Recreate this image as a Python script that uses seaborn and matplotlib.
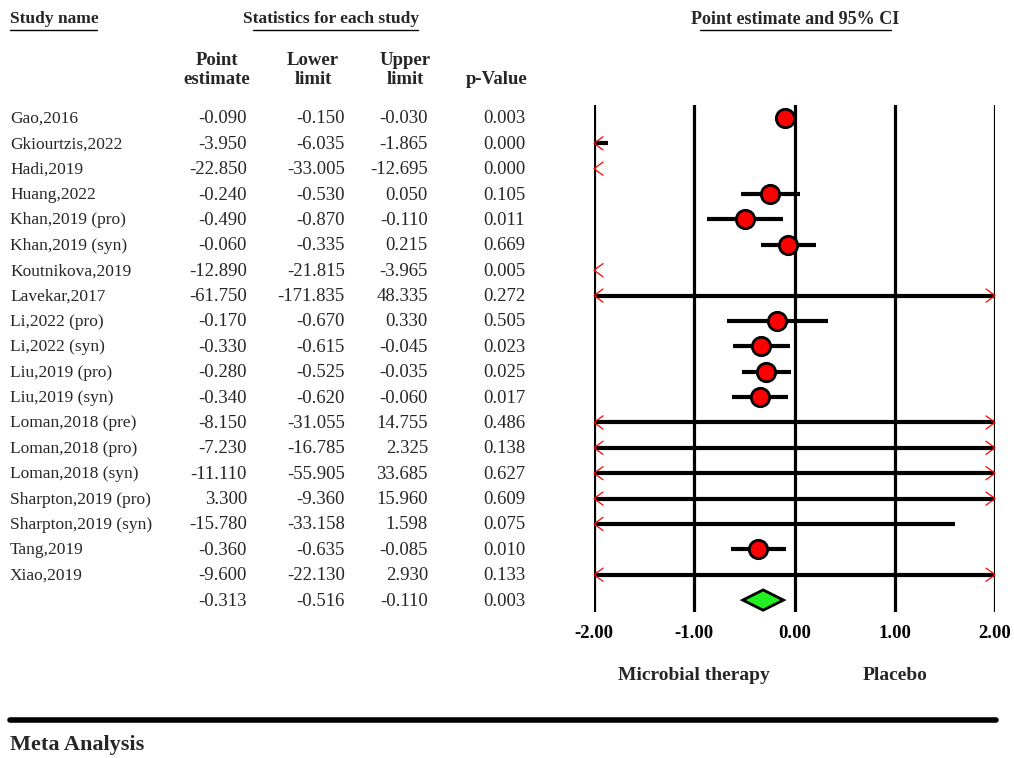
import matplotlib
matplotlib.use("Agg")
import matplotlib.pyplot as plt
import matplotlib.transforms as mtransforms
from matplotlib.lines import Line2D
import seaborn as sns
import pandas as pd

studies = [
    "Gao,2016", "Gkiourtzis,2022", "Hadi,2019", "Huang,2022", "Khan,2019 (pro)",
    "Khan,2019 (syn)", "Koutnikova,2019", "Lavekar,2017", "Li,2022 (pro)", "Li,2022 (syn)",
    "Liu,2019 (pro)", "Liu,2019 (syn)", "Loman,2018 (pre)", "Loman,2018 (pro)",
    "Loman,2018 (syn)", "Sharpton,2019 (pro)", "Sharpton,2019 (syn)", "Tang,2019", "Xiao,2019",
]
point_est = [-0.090, -3.950, -22.850, -0.240, -0.490, -0.060, -12.890, -61.750, -0.170, -0.330,
             -0.280, -0.340, -8.150, -7.230, -11.110, 3.300, -15.780, -0.360, -9.600]
lower = [-0.150, -6.035, -33.005, -0.530, -0.870, -0.335, -21.815, -171.835, -0.670, -0.615,
         -0.525, -0.620, -31.055, -16.785, -55.905, -9.360, -33.158, -0.635, -22.130]
upper = [-0.030, -1.865, -12.695, 0.050, -0.110, 0.215, -3.965, 48.335, 0.330, -0.045,
         -0.035, -0.060, 14.755, 2.325, 33.685, 15.960, 1.598, -0.085, 2.930]
p_values = [0.003, 0.000, 0.000, 0.105, 0.011, 0.669, 0.005, 0.272, 0.505, 0.023,
            0.025, 0.017, 0.486, 0.138, 0.627, 0.609, 0.075, 0.010, 0.133]
pooled = {"est": -0.313, "lo": -0.516, "hi": -0.110, "p": 0.003}
x_ticks = [-2, -1, 0, 1, 2]
left_label = "Microbial therapy"
right_label = "Placebo"

sns.set_theme(style="white")
plt.rcParams["font.family"] = ["Liberation Serif", "DejaVu Serif"]

W, H = 1014, 758
fig = plt.figure(figsize=(W / 100, H / 100), dpi=100)


def fx(px):
    return px / W


def fy(py):
    return 1 - py / H


ax = fig.add_axes([fx(594), fy(612), fx(995) - fx(594), fy(105) - fy(612)])
xmin, xmax = x_ticks[0], x_ticks[-1]
n = len(studies)
ax.set_xlim(xmin, xmax)
ax.set_ylim(n + 0.47, -0.51)
for s in ax.spines.values():
    s.set_visible(False)
ax.set_yticks([])
ax.set_xticks(x_ticks)
ax.set_xticklabels([f"{t:.2f}" for t in x_ticks], fontsize=13.5, fontweight="bold")
ax.tick_params(axis="x", length=0, pad=9, colors="black")
for t in x_ticks:
    ax.axvline(t, color="black", lw=2.3, zorder=1)

df = pd.DataFrame({"study": studies, "est": point_est, "lo": lower, "hi": upper, "p": p_values})
df["row"] = range(n)

# CI lines, clipped to the axis range with red arrows where they run off
arrow_dx, arrow_dy = 0.09, 0.26
for _, r in df.iterrows():
    lo_c = max(r["lo"], xmin)
    hi_c = min(r["hi"], xmax)
    if hi_c > lo_c:
        ax.plot([lo_c, hi_c], [r["row"], r["row"]], color="black", lw=3, zorder=2,
                solid_capstyle="butt")
    if r["lo"] < xmin:
        ax.plot([xmin + arrow_dx, xmin, xmin + arrow_dx],
                [r["row"] - arrow_dy, r["row"], r["row"] + arrow_dy],
                color="red", lw=0.9, zorder=4, clip_on=False)
    if r["hi"] > xmax:
        ax.plot([xmax - arrow_dx, xmax, xmax - arrow_dx],
                [r["row"] - arrow_dy, r["row"], r["row"] + arrow_dy],
                color="red", lw=0.9, zorder=4, clip_on=False)

visible = df[(df["est"] >= xmin) & (df["est"] <= xmax)]
sns.scatterplot(data=visible, x="est", y="row", ax=ax, s=175, color="red",
                edgecolor="black", linewidth=2, zorder=5, legend=False)
ax.set_xlabel("")
ax.set_ylabel("")

# pooled diamond
ax.fill([pooled["lo"], pooled["est"], pooled["hi"], pooled["est"]],
        [n, n - 0.4, n, n + 0.4], facecolor="#22ee22", edgecolor="black", lw=2, zorder=5)

# text columns
tr = mtransforms.blended_transform_factory(fig.transFigure, ax.transData)
fs_name, fs_num = 12.5, 13.5
num_cols = [(247, point_est), (345, lower), (428, upper), (525, p_values)]
for i in range(n):
    ax.text(fx(10), i + 0.04, studies[i], transform=tr, ha="left", va="center", fontsize=fs_name)
    for xp, vals in num_cols:
        ax.text(fx(xp), i + 0.04, f"{vals[i]:.3f}", transform=tr, ha="right", va="center",
                fontsize=fs_num)
for xp, key in zip([247, 345, 428, 525], ["est", "lo", "hi", "p"]):
    ax.text(fx(xp), n + 0.04, f"{pooled[key]:.3f}", transform=tr, ha="right", va="center",
            fontsize=fs_num)

# headers
fig.text(fx(10), fy(19), "Study name", ha="left", va="center", fontsize=12.5, fontweight="bold")
fig.text(fx(331), fy(19), "Statistics for each study", ha="center", va="center",
         fontsize=12.5, fontweight="bold")
fig.text(fx(795), fy(19), "Point estimate and 95% CI", ha="center", va="center",
         fontsize=13, fontweight="bold")
for x0, x1 in [(10, 97), (253, 418), (700, 891)]:
    fig.add_artist(Line2D([fx(x0), fx(x1)], [fy(30), fy(30)], color="black", lw=1))

hdr = dict(ha="center", va="center", fontsize=13.5, fontweight="bold", linespacing=1.2)
fig.text(fx(217), fy(70), "Point\nestimate", **hdr)
fig.text(fx(313), fy(70), "Lower\nlimit", **hdr)
fig.text(fx(405), fy(70), "Upper\nlimit", **hdr)
fig.text(fx(497), fy(80), "p-Value", **hdr)

# favours labels
trx = mtransforms.blended_transform_factory(ax.transData, fig.transFigure)
ax.text(-1, fy(676), left_label, transform=trx, ha="center", va="center", fontsize=14,
        fontweight="bold")
ax.text(1, fy(676), right_label, transform=trx, ha="center", va="center", fontsize=14,
        fontweight="bold")

fig.add_artist(Line2D([fx(10), fx(996)], [fy(720), fy(720)], color="black", lw=4))
fig.text(fx(10), fy(745), "Meta Analysis", ha="left", va="center", fontsize=16,
         fontweight="bold")

fig.savefig("out.png", dpi=100)
